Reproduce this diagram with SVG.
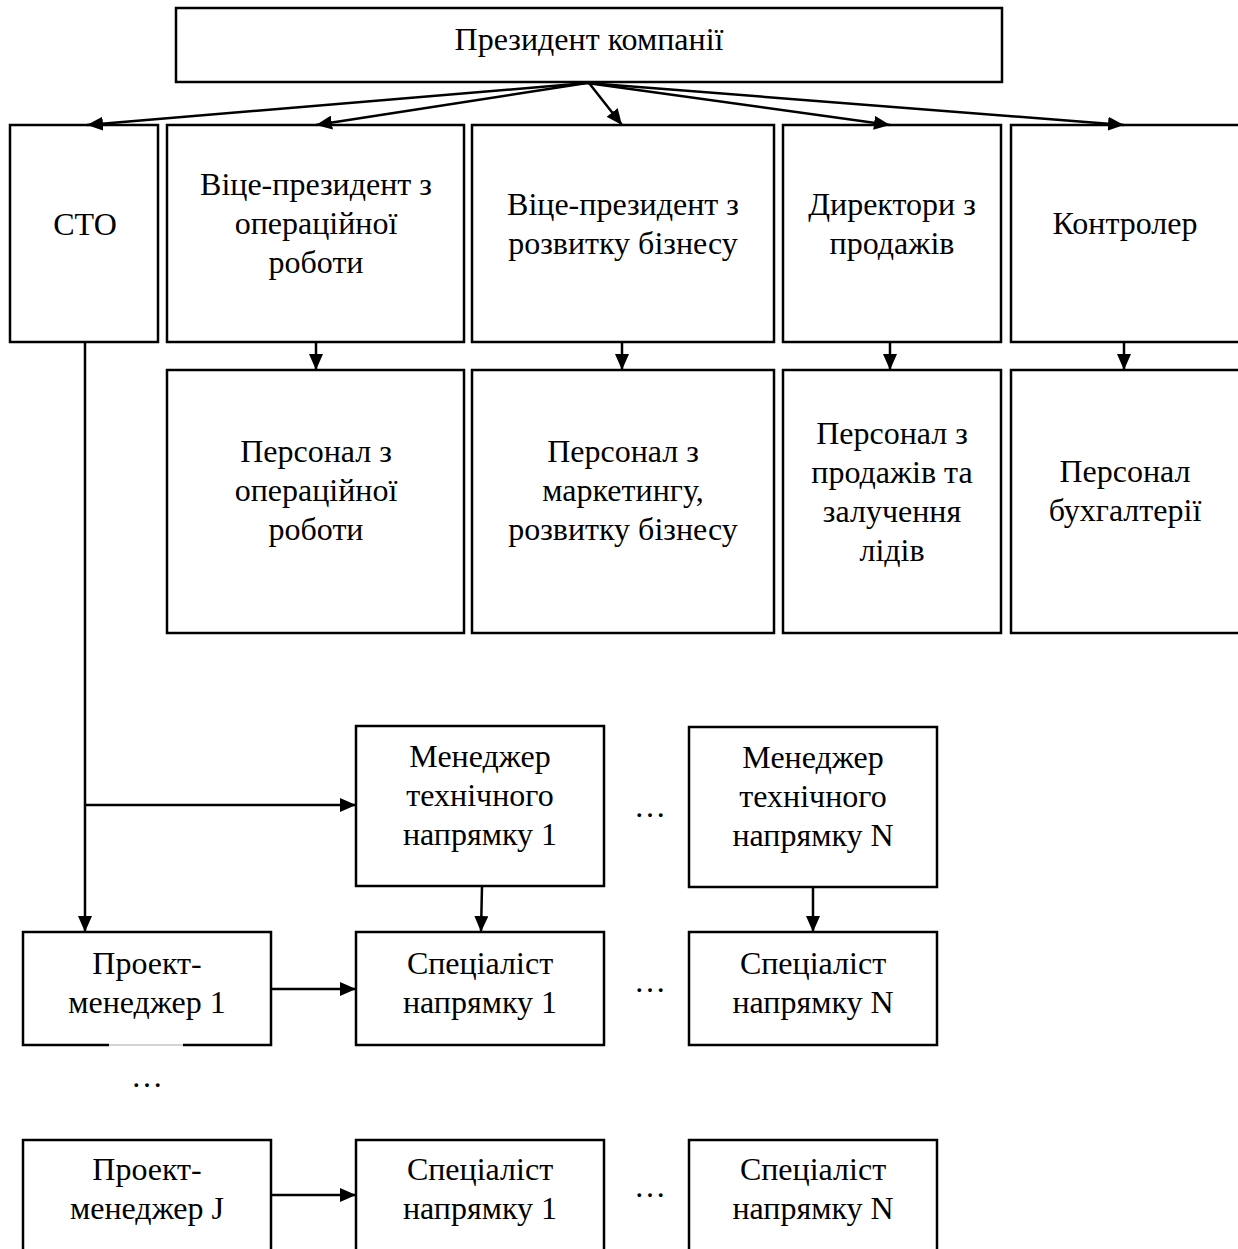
<svg xmlns="http://www.w3.org/2000/svg" width="1238" height="1249" viewBox="0 0 1238 1249">
<style>
.b{fill:#fff;stroke:#000;stroke-width:2.5}
.t{font-family:"Liberation Serif","Times New Roman",serif;font-size:32px;fill:#000;text-anchor:middle}
.c{fill:none;stroke:#000;stroke-width:2.5}
</style>
<defs>
<marker id="ah" markerUnits="userSpaceOnUse" markerWidth="16" markerHeight="14" viewBox="0 0 16 14" refX="16" refY="7" orient="auto">
<path d="M0,0 L16,7 L0,14 Z" fill="#000"/>
</marker>
</defs>
<rect width="1238" height="1249" fill="#fff"/>
<g id="president"><rect class="b" x="176" y="8" width="826" height="74"/><text class="t" x="589" y="50">Президент компанії</text></g>
<g id="cto"><rect class="b" x="10" y="125" width="148" height="217"/><text class="t" x="85" y="235">СТО</text></g>
<g id="vp-ops"><rect class="b" x="167" y="125" width="297" height="217"/><text class="t" x="316"><tspan x="316" y="195">Віце-президент з</tspan><tspan x="316" y="234">операційної</tspan><tspan x="316" y="273">роботи</tspan></text></g>
<g id="vp-bus"><rect class="b" x="472" y="125" width="302" height="217"/><text class="t"><tspan x="623" y="215">Віце-президент з</tspan><tspan x="623" y="254">розвитку бізнесу</tspan></text></g>
<g id="sales-dir"><rect class="b" x="783" y="125" width="218" height="217"/><text class="t"><tspan x="892" y="215">Директори з</tspan><tspan x="892" y="254">продажів</tspan></text></g>
<g id="controller"><rect class="b" x="1011" y="125" width="240" height="217"/><text class="t" x="1125" y="234">Контролер</text></g>
<g id="staff-ops"><rect class="b" x="167" y="370" width="297" height="263"/><text class="t"><tspan x="316" y="462">Персонал з</tspan><tspan x="316" y="501">операційної</tspan><tspan x="316" y="540">роботи</tspan></text></g>
<g id="staff-mkt"><rect class="b" x="472" y="370" width="302" height="263"/><text class="t"><tspan x="623" y="462">Персонал з</tspan><tspan x="623" y="501">маркетингу,</tspan><tspan x="623" y="540">розвитку бізнесу</tspan></text></g>
<g id="staff-sales"><rect class="b" x="783" y="370" width="218" height="263"/><text class="t"><tspan x="892" y="444">Персонал з</tspan><tspan x="892" y="483">продажів та</tspan><tspan x="892" y="522">залучення</tspan><tspan x="892" y="561">лідів</tspan></text></g>
<g id="staff-acc"><rect class="b" x="1011" y="370" width="240" height="263"/><text class="t"><tspan x="1125" y="482">Персонал</tspan><tspan x="1125" y="521">бухгалтерії</tspan></text></g>
<g id="mgr-1"><rect class="b" x="356" y="726" width="248" height="160"/><text class="t"><tspan x="480" y="767">Менеджер</tspan><tspan x="480" y="806">технічного</tspan><tspan x="480" y="845">напрямку 1</tspan></text></g>
<g id="mgr-n"><rect class="b" x="689" y="727" width="248" height="160"/><text class="t"><tspan x="813" y="768">Менеджер</tspan><tspan x="813" y="807">технічного</tspan><tspan x="813" y="846">напрямку N</tspan></text></g>
<g id="pm-1"><path class="c" d="M109,1045 L23,1045 L23,932 L271,932 L271,1045 L183,1045"/><line x1="109" y1="1045" x2="183" y2="1045" stroke="#aaa" stroke-width="1"/><text class="t"><tspan x="147" y="974">Проект-</tspan><tspan x="147" y="1013">менеджер 1</tspan></text></g>
<g id="spec-1-1"><rect class="b" x="356" y="932" width="248" height="113"/><text class="t"><tspan x="480" y="974">Спеціаліст</tspan><tspan x="480" y="1013">напрямку 1</tspan></text></g>
<g id="spec-1-n"><rect class="b" x="689" y="932" width="248" height="113"/><text class="t"><tspan x="813" y="974">Спеціаліст</tspan><tspan x="813" y="1013">напрямку N</tspan></text></g>
<g id="pm-j"><rect class="b" x="23" y="1140" width="248" height="120"/><text class="t"><tspan x="147" y="1180">Проект-</tspan><tspan x="147" y="1219">менеджер J</tspan></text></g>
<g id="spec-j-1"><rect class="b" x="356" y="1140" width="248" height="120"/><text class="t"><tspan x="480" y="1180">Спеціаліст</tspan><tspan x="480" y="1219">напрямку 1</tspan></text></g>
<g id="spec-j-n"><rect class="b" x="689" y="1140" width="248" height="120"/><text class="t"><tspan x="813" y="1180">Спеціаліст</tspan><tspan x="813" y="1219">напрямку N</tspan></text></g>
<g id="dots">
<text class="t" x="650" y="817">…</text>
<text class="t" x="650" y="992">…</text>
<text class="t" x="147" y="1087">…</text>
<text class="t" x="650" y="1197">…</text>
</g>
<g id="connectors">
<line class="c" x1="587" y1="83" x2="87" y2="125" marker-end="url(#ah)"/>
<line class="c" x1="587" y1="83" x2="316" y2="125" marker-end="url(#ah)"/>
<line class="c" x1="589" y1="83" x2="622" y2="125" marker-end="url(#ah)"/>
<line class="c" x1="587" y1="83" x2="890" y2="125" marker-end="url(#ah)"/>
<line class="c" x1="587" y1="83" x2="1124" y2="125" marker-end="url(#ah)"/>
<line class="c" x1="316" y1="342" x2="316" y2="370" marker-end="url(#ah)"/>
<line class="c" x1="622" y1="342" x2="622" y2="370" marker-end="url(#ah)"/>
<line class="c" x1="890" y1="342" x2="890" y2="370" marker-end="url(#ah)"/>
<line class="c" x1="1124" y1="342" x2="1124" y2="370" marker-end="url(#ah)"/>
<line class="c" x1="85" y1="342" x2="85" y2="932" marker-end="url(#ah)"/>
<line class="c" x1="85" y1="805" x2="356" y2="805" marker-end="url(#ah)"/>
<line class="c" x1="482" y1="886" x2="481" y2="932" marker-end="url(#ah)"/>
<line class="c" x1="813" y1="887" x2="813" y2="932" marker-end="url(#ah)"/>
<line class="c" x1="271" y1="989" x2="356" y2="989" marker-end="url(#ah)"/>
<line class="c" x1="271" y1="1195" x2="356" y2="1195" marker-end="url(#ah)"/>
</g>
</svg>
